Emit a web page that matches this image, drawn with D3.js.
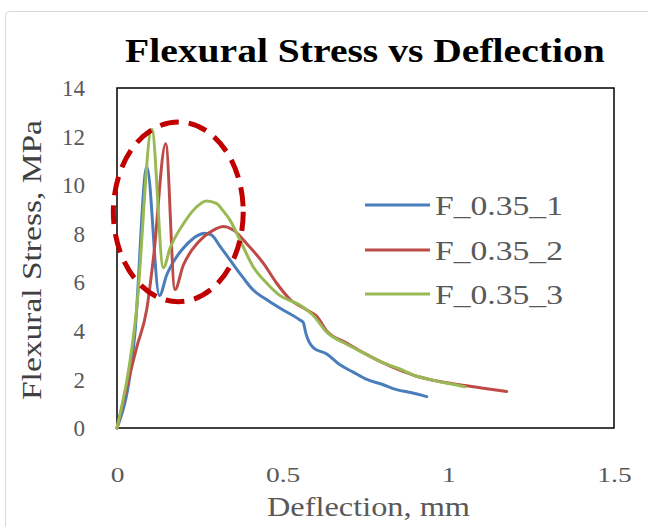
<!DOCTYPE html>
<html>
<head>
<meta charset="utf-8">
<script src="https://cdn.jsdelivr.net/npm/d3@7/dist/d3.min.js"></script>
<style>
  html, body { margin: 0; padding: 0; background: #fff; }
  svg { display: block; }
</style>
</head>
<body>
<svg id="chart" width="648" height="527" font-family="Liberation Serif"></svg>
<script>
// ---- data ----
const seriesNames = ["F_0.35_1", "F_0.35_2", "F_0.35_3"];
const xTicks = [0, 0.5, 1, 1.5];
const yTicks = [0, 2, 4, 6, 8, 10, 12, 14];

const s1x = [0, 0.054, 0.09, 0.128, 0.15, 0.18, 0.21, 0.24, 0.265, 0.285, 0.31, 0.341, 0.38, 0.411, 0.45, 0.49, 0.552, 0.562, 0.57, 0.593, 0.633, 0.673, 0.713, 0.754, 0.80, 0.844, 0.89, 0.935];
const s1y = [0, 3.9, 10.76, 5.45, 6.3, 7.05, 7.55, 7.9, 8.02, 7.95, 7.5, 6.92, 6.2, 5.68, 5.3, 4.95, 4.45, 4.35, 3.9, 3.3, 3.05, 2.6, 2.3, 2.0, 1.8, 1.58, 1.45, 1.29];

const s2x = [0, 0.059, 0.09, 0.11, 0.147, 0.175, 0.20, 0.23, 0.26, 0.291, 0.321, 0.351, 0.391, 0.442, 0.482, 0.522, 0.573, 0.603, 0.633, 0.693, 0.75, 0.80, 0.85, 0.90, 0.95, 1.0, 1.05, 1.10, 1.176];
const s2y = [0, 3.3, 4.9, 7.0, 11.7, 5.7, 6.7, 7.4, 7.85, 8.15, 8.3, 8.15, 7.6, 6.78, 5.96, 5.3, 4.86, 4.6, 4.0, 3.5, 3.05, 2.7, 2.4, 2.15, 1.98, 1.85, 1.75, 1.65, 1.5];

const s3x = [0, 0.059, 0.105, 0.14, 0.16, 0.20, 0.24, 0.27, 0.30, 0.32, 0.341, 0.371, 0.411, 0.452, 0.492, 0.552, 0.593, 0.633, 0.693, 0.75, 0.80, 0.85, 0.90, 0.95, 1.0, 1.05];
const s3y = [0, 4.86, 12.3, 6.6, 7.4, 8.4, 9.1, 9.35, 9.25, 8.95, 8.56, 7.74, 6.64, 5.96, 5.45, 5.06, 4.62, 3.95, 3.45, 3.05, 2.7, 2.45, 2.15, 1.98, 1.83, 1.70];

// annotation ellipse (data units): centre x, centre y, radius x, radius y
const ellipseData = [0.185, 8.9, 0.196, 3.7];

// ---- styling / layout ----
const colors = ["#4a7ebb", "#be4b48", "#98b954"];
const M = { left: 117, right: 614, top: 88, bottom: 428 };
const FONT = "Liberation Serif";

const svg = d3.select("#chart");
svg.append("rect").attr("width", 648).attr("height", 527).attr("fill", "#fff");
svg.append("rect").attr("x", 5.5).attr("y", 11.5).attr("width", 680).attr("height", 560)
  .attr("rx", 4).attr("fill", "none").attr("stroke", "#d9d9d9").attr("stroke-width", 1);

const x = d3.scaleLinear().domain([0, 1.5]).range([M.left, M.right]);
const y = d3.scaleLinear().domain([0, 14]).range([M.bottom, M.top]);

// place text stretched horizontally to a target width (keeps glyph shapes)
function fitText(t, px, py, width, rotate) {
  t.attr("x", 0).attr("y", 0);
  const w = t.node().getComputedTextLength();
  const s = w > 0 ? width / w : 1;
  t.attr("transform", `translate(${px},${py})${rotate ? " rotate(-90)" : ""} scale(${s},1)`);
}

// Title
const title = svg.append("text")
  .attr("font-family", FONT).attr("font-weight", "bold").attr("font-size", 33)
  .attr("fill", "#000")
  .text("Flexural Stress vs Deflection");
fitText(title, 125, 62, 480);

// axes (labels only)
const xAxis = d3.axisBottom(x).tickValues(xTicks).tickSize(0).tickPadding(0)
  .tickFormat(d => String(d));
const gx = svg.append("g").attr("transform", `translate(0,${M.bottom})`).call(xAxis);
gx.attr("font-family", FONT);
gx.select(".domain").remove();
gx.selectAll("text")
  .attr("font-family", FONT).attr("font-size", 22).attr("fill", "#595959")
  .attr("dy", null).attr("y", 0)
  .attr("transform", "translate(0,54) scale(1.25,1)");

const yAxis = d3.axisLeft(y).tickValues(yTicks).tickSize(0).tickPadding(0)
  .tickFormat(d => String(d));
const gy = svg.append("g").attr("transform", `translate(${M.left},0)`).call(yAxis);
gy.attr("font-family", FONT);
gy.select(".domain").remove();
gy.selectAll("text")
  .attr("font-family", FONT).attr("font-size", 23).attr("fill", "#595959")
  .attr("x", -32).attr("dy", "0.33em");

// plot area border
svg.append("rect")
  .attr("x", M.left).attr("y", M.top)
  .attr("width", M.right - M.left).attr("height", M.bottom - M.top)
  .attr("fill", "none").attr("stroke", "#000").attr("stroke-width", 1.5);

// lines
const seriesX = [s1x, s2x, s3x];
const seriesY = [s1y, s2y, s3y];
const line = d3.line().curve(d3.curveMonotoneX).x(d => x(d[0])).y(d => y(d[1]));
seriesNames.forEach((name, i) => {
  const pts = seriesX[i].map((v, k) => [v, seriesY[i][k]]);
  svg.append("path").datum(pts)
    .attr("d", line)
    .attr("fill", "none").attr("stroke", colors[i])
    .attr("stroke-width", 3).attr("stroke-linejoin", "round").attr("stroke-linecap", "round");
});

// dashed ellipse annotation
svg.append("ellipse")
  .attr("cx", x(ellipseData[0])).attr("cy", y(ellipseData[1]))
  .attr("rx", x(ellipseData[0] + ellipseData[2]) - x(ellipseData[0]))
  .attr("ry", y(ellipseData[1]) - y(ellipseData[1] + ellipseData[3]))
  .attr("fill", "none").attr("stroke", "#c00000").attr("stroke-width", 5)
  .attr("stroke-dasharray", "19 10");

// legend
const legendY = [205, 250, 294];
seriesNames.forEach((name, i) => {
  svg.append("line").attr("x1", 365).attr("x2", 430)
    .attr("y1", legendY[i]).attr("y2", legendY[i])
    .attr("stroke", colors[i]).attr("stroke-width", 3);
  const t = svg.append("text")
    .attr("font-family", FONT).attr("font-size", 28).attr("fill", "#595959")
    .attr("dy", "0.35em")
    .text(name);
  fitText(t, 435, legendY[i], 128);
});

// axis titles
const xt = svg.append("text")
  .attr("font-family", FONT).attr("font-size", 28).attr("fill", "#595959")
  .text("Deflection, mm");
fitText(xt, 267, 516, 203);

const yt = svg.append("text")
  .attr("font-family", FONT).attr("font-size", 28).attr("fill", "#404040")
  .text("Flexural Stress, MPa");
fitText(yt, 41, 400, 280, true);
</script>
</body>
</html>
